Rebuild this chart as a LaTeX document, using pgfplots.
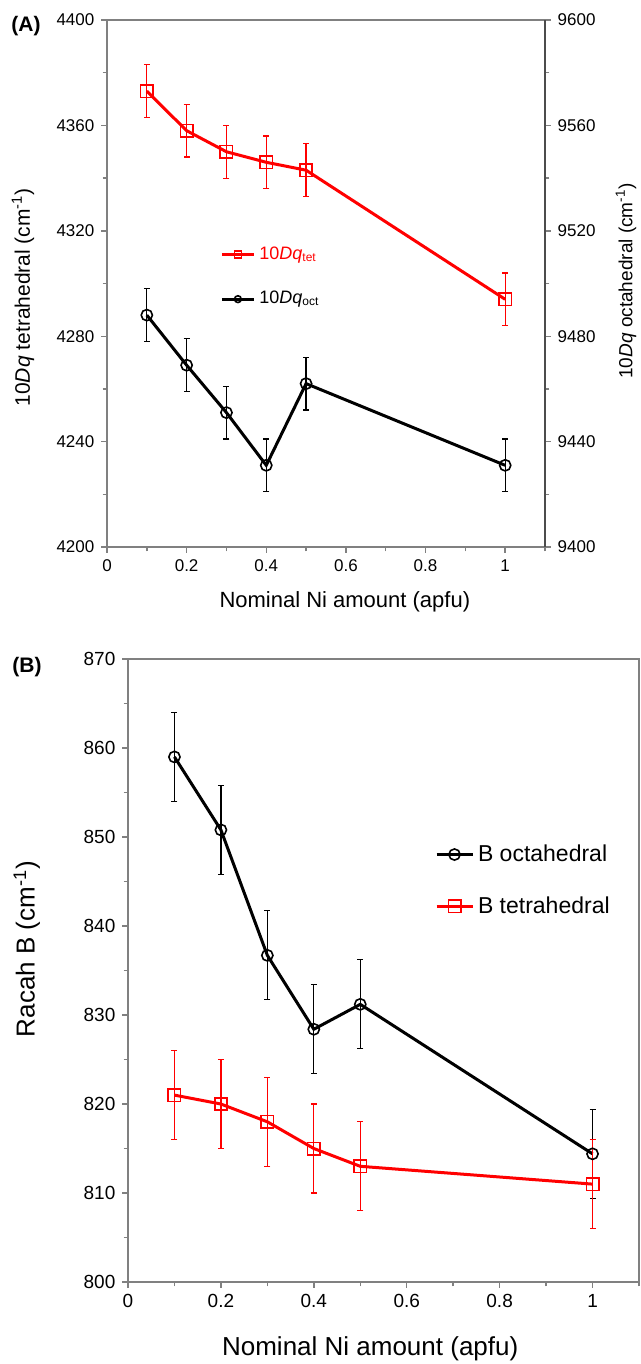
\documentclass[border=0pt]{standalone}
\usepackage{fontspec}
\setmainfont{Liberation Sans}
\usepackage{pgfplots}
\pgfplotsset{compat=1.18}
\definecolor{framegray}{gray}{0.5}
\definecolor{framedark}{gray}{0.3}

\pgfplotsset{
  common/.style={
    scale only axis,
    xmin=0, xmax=1.1,
    tick align=outside,
    major tick length=2.8pt, minor tick length=2.2pt,
    axis line style={framegray, line width=0.9pt},
    tick style={framegray, line width=0.7pt},
    /pgf/number format/assume math mode=true,
    /pgf/number format/1000 sep={},
    xtick={0,0.2,0.4,0.6,0.8,1},
    minor xtick={0.1,0.3,0.5,0.7,0.9,1.1},
    clip=false,
    legend cell align=left,
  },
  tetline/.style={red, line width=1.5pt, mark=square, mark size=3.1pt, mark options={solid, line width=0.8pt, fill=none}},
  octline/.style={black, line width=1.5pt, mark=o, mark size=2.8pt, mark options={solid, line width=0.8pt, fill=none}},
  redbars/.style={error bars/.cd, y dir=both, y explicit,
    error bar style={line width=0.6pt, red},
    error mark options={rotate=90, mark size=1.5pt, line width=0.6pt, red}},
  blackbars/.style={error bars/.cd, y dir=both, y explicit,
    error bar style={line width=0.6pt, black},
    error mark options={rotate=90, mark size=1.5pt, line width=0.6pt, black}},
}

\begin{document}
\begin{tikzpicture}
\useasboundingbox (0pt,0pt) rectangle (320.5pt,-682pt);

% ---------- Panel A: left axis (tetrahedral) ----------
\begin{axis}[common,
  at={(53.5pt,-273.5pt)}, anchor=south west,
  width=219pt, height=263.5pt,
  ymin=4200, ymax=4400,
  ytick={4200,4240,4280,4320,4360,4400},
  minor ytick={4220,4260,4300,4340,4380},
  xtick pos=bottom, ytick pos=left,
  tick label style={font=\fontsize{8.5}{10}\selectfont},
  xlabel={Nominal Ni amount (apfu)},
  ylabel={10\textit{Dq} tetrahedral (cm\textsuperscript{-1})},
  every axis x label/.style={at={(axis description cs:0.543,-0.104)}, anchor=center, font=\fontsize{11}{13}\selectfont},
  every axis y label/.style={at={(axis description cs:-0.192,0.474)}, rotate=90, anchor=center, font=\fontsize{10.5}{12}\selectfont},
]
\addplot+[tetline, redbars] coordinates {
  (0.1,4373) +- (0,10)
  (0.2,4358) +- (0,10)
  (0.3,4350) +- (0,10)
  (0.4,4346) +- (0,10)
  (0.5,4343) +- (0,10)
  (1.0,4294) +- (0,10)
};
\end{axis}

% ---------- Panel A: right axis (octahedral) ----------
\begin{axis}[common,
  at={(53.5pt,-273.5pt)}, anchor=south west,
  width=219pt, height=263.5pt,
  ymin=9400, ymax=9600,
  axis x line=none, axis y line*=right,
  axis line style={framedark, line width=0.9pt},
  ytick={9400,9440,9480,9520,9560,9600},
  minor ytick={9420,9460,9500,9540,9580},
  tick label style={font=\fontsize{8.5}{10}\selectfont},
  ylabel={10\textit{Dq} octahedral (cm\textsuperscript{-1})},
  every axis y label/.style={at={(axis description cs:1.185,0.505)}, rotate=90, anchor=center, font=\fontsize{9.5}{11}\selectfont},
  legend image code/.code={\draw[mark repeat=2,mark phase=2,#1,mark size=1.7pt] plot coordinates {(0pt,0pt) (8pt,0pt) (16pt,0pt)};},
  legend style={draw=none, fill=none, font=\fontsize{9}{10}\selectfont, row sep=10.5pt,
    at={(axis description cs:0.258,0.578)}, anchor=north west, inner sep=0pt},
]
\addlegendimage{tetline}
\addlegendentry{\textcolor{red}{10\textit{Dq}\textsubscript{tet}}}
\addplot+[octline, blackbars] coordinates {
  (0.1,9488) +- (0,10)
  (0.2,9469) +- (0,10)
  (0.3,9451) +- (0,10)
  (0.4,9431) +- (0,10)
  (0.5,9462) +- (0,10)
  (1.0,9431) +- (0,10)
};
\addlegendentry{10\textit{Dq}\textsubscript{oct}}
\end{axis}

% ---------- Panel B ----------
\begin{axis}[common,
  at={(64pt,-641pt)}, anchor=south west,
  width=255.5pt, height=311.5pt,
  ymin=800, ymax=870,
  ytick={800,810,820,830,840,850,860,870},
  minor ytick={805,815,825,835,845,855,865},
  xtick pos=bottom, ytick pos=left,
  tick label style={font=\fontsize{9.5}{11}\selectfont},
  xlabel={Nominal Ni amount (apfu)},
  ylabel={Racah B (cm\textsuperscript{-1})},
  every axis x label/.style={at={(axis description cs:0.474,-0.1075)}, anchor=center, font=\fontsize{13}{15}\selectfont},
  every axis y label/.style={at={(axis description cs:-0.198,0.5345)}, rotate=90, anchor=center, font=\fontsize{13}{15}\selectfont},
  legend image code/.code={\draw[mark repeat=2,mark phase=2,#1] plot coordinates {(0pt,0pt) (9pt,0pt) (18pt,0pt)};},
  legend style={draw=none, fill=none, font=\fontsize{11.5}{13}\selectfont, row sep=12pt,
    at={(axis description cs:0.600,0.709)}, anchor=north west, inner sep=0pt},
]
\addplot+[octline, blackbars] coordinates {
  (0.1,859.0) +- (0,5)
  (0.2,850.8) +- (0,5)
  (0.3,836.7) +- (0,5)
  (0.4,828.4) +- (0,5)
  (0.5,831.2) +- (0,5)
  (1.0,814.4) +- (0,5)
};
\addlegendentry{B octahedral}
\addplot+[tetline, redbars] coordinates {
  (0.1,821.0) +- (0,5)
  (0.2,820.0) +- (0,5)
  (0.3,818.0) +- (0,5)
  (0.4,815.0) +- (0,5)
  (0.5,813.0) +- (0,5)
  (1.0,811.0) +- (0,5)
};
\addlegendentry{B tetrahedral}
\end{axis}

\node[font=\bfseries\fontsize{10.5}{12}\selectfont] at (13pt,-13pt) {(A)};
\node[font=\bfseries\fontsize{10.5}{12}\selectfont] at (13.5pt,-333.5pt) {(B)};
\end{tikzpicture}
\end{document}
